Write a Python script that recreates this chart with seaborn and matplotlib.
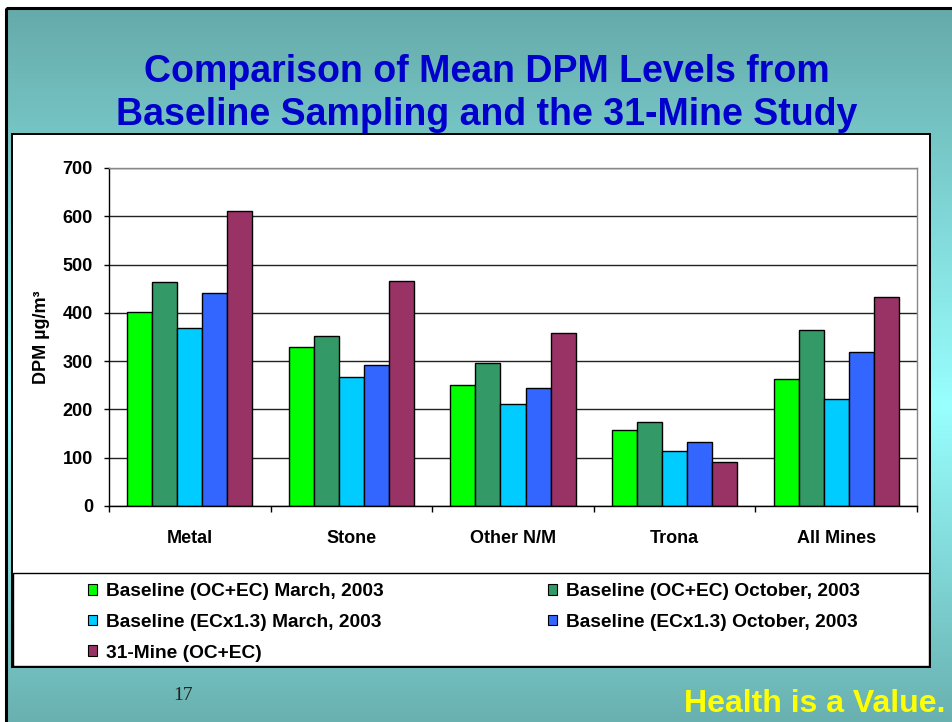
import numpy as np
import pandas as pd
import matplotlib
matplotlib.use("Agg")
import matplotlib.pyplot as plt
from matplotlib.patches import Rectangle, Patch
import seaborn as sns

# ---------------- data ----------------
categories = ["Metal", "Stone", "Other N/M", "Trona", "All Mines"]
series = [
    "Baseline (OC+EC) March, 2003",
    "Baseline (OC+EC) October, 2003",
    "Baseline (ECx1.3) March, 2003",
    "Baseline (ECx1.3) October, 2003",
    "31-Mine (OC+EC)",
]
oc_ec_march = [402, 329, 251, 158, 262]
oc_ec_october = [463, 352, 297, 175, 365]
ec13_march = [368, 267, 211, 114, 222]
ec13_october = [442, 293, 244, 132, 318]
mine31 = [610, 466, 358, 92, 432]
colors = ["#00ff00", "#339966", "#00ccff", "#3366ff", "#993366"]
yticks = [0, 100, 200, 300, 400, 500, 600, 700]

values = [oc_ec_march, oc_ec_october, ec13_march, ec13_october, mine31]
rows = []
for s, vals in zip(series, values):
    for c, v in zip(categories, vals):
        rows.append({"category": c, "series": s, "value": v})
df = pd.DataFrame(rows)

# ---------------- figure ----------------
plt.rcParams["font.family"] = ["Liberation Sans", "DejaVu Sans"]
W, H = 952, 722
fig = plt.figure(figsize=(W / 100, H / 100), dpi=100)
fig.patch.set_facecolor("white")

# background (pixel coordinates)
bg = fig.add_axes([0, 0, 1, 1], zorder=0)
bg.set_xlim(0, W)
bg.set_ylim(H, 0)
bg.axis("off")
top_c = np.array([0x66, 0xaa, 0xaa]) / 255
mid_c = np.array([0x99, 0xff, 0xff]) / 255
bot_c = np.array([0x68, 0xae, 0xae]) / 255
ys = np.linspace(8, H, 400)
grad = np.zeros((len(ys), 1, 3))
for i, y in enumerate(ys):
    if y < 400:
        t = (y - 8) / (400 - 8)
        grad[i, 0] = top_c * (1 - t) + mid_c * t
    else:
        t = (y - 400) / (H - 400)
        grad[i, 0] = mid_c * (1 - t) + bot_c * t
bg.imshow(grad, extent=[6, W + 10, H + 10, 8], aspect="auto", interpolation="bilinear")
bg.add_patch(Rectangle((6, 8), W + 20, H + 20, fill=False, edgecolor="black", lw=2.2))
# white chart panel
bg.add_patch(Rectangle((12, 134), 918, 533, facecolor="white", edgecolor="black", lw=1.4))
# legend box
bg.add_patch(Rectangle((13, 573), 916, 93, facecolor="white", edgecolor="black", lw=1.0))

# title
title_color = "#0000cc"
fig.text(487 / W, 1 - 72 / H, "Comparison of Mean DPM Levels from", ha="center", va="center",
         fontsize=27, fontweight="bold", color=title_color)
fig.text(487 / W, 1 - 115 / H, "Baseline Sampling and the 31-Mine Study", ha="center", va="center",
         fontsize=27, fontweight="bold", color=title_color)

# footer
fig.text(183 / W, 1 - 695 / H, "17", ha="center", va="center", fontsize=14,
         family=["Liberation Serif", "DejaVu Serif"], color="#222222")
fig.text(946 / W, 1 - 704 / H, "Health is a Value.", ha="right", va="center", fontsize=23,
         fontweight="bold", color="#ffff00")

# ---------------- main plot ----------------
ax = fig.add_axes([109 / W, 1 - 506 / H, 808 / W, 338 / H], zorder=2)
ax.set_facecolor("white")
sns.barplot(data=df, x="category", y="value", hue="series", order=categories,
            hue_order=series, palette=colors, saturation=1, width=0.775,
            edgecolor="black", linewidth=1.0, legend=False, ax=ax)
ax.set_xlim(-0.5, len(categories) - 0.5)
ax.set_ylim(0, 700)
ax.set_yticks(yticks)
ax.set_axisbelow(True)
ax.yaxis.grid(True, color="#222222", lw=1.0)
ax.xaxis.grid(False)
for side in ["left", "bottom"]:
    ax.spines[side].set_color("black")
    ax.spines[side].set_linewidth(1.0)
for side in ["top", "right"]:
    ax.spines[side].set_color("#888888")
    ax.spines[side].set_linewidth(1.0)

ax.set_xlabel("")
ax.set_ylabel("DPM µg/m³", fontsize=13, fontweight="bold")
ax.yaxis.set_label_coords(-0.073, 0.5)
ax.tick_params(axis="y", which="major", length=3.6, width=1, direction="out", pad=8,
               labelsize=13)
ax.tick_params(axis="x", which="major", length=0, pad=17, labelsize=13)
ax.set_xticks(np.arange(-0.5, len(categories), 1), minor=True)
ax.tick_params(axis="x", which="minor", length=4.3, width=1, direction="out")
for lbl in ax.get_xticklabels() + ax.get_yticklabels():
    lbl.set_fontweight("bold")

# ---------------- legend ----------------
handles = [Patch(facecolor=c, edgecolor="black", lw=0.8) for c in colors]
leg_kw = dict(loc="upper left", frameon=False, borderpad=0, borderaxespad=0,
              handlelength=0.48, handleheight=0.48, handletextpad=0.45, labelspacing=0.72,
              prop={"weight": "bold", "size": 13.8})
l1 = fig.legend([handles[0], handles[2], handles[4]], [series[0], series[2], series[4]],
                bbox_to_anchor=(88 / W, 1 - 583 / H), **leg_kw)
l2 = fig.legend([handles[1], handles[3]], [series[1], series[3]],
                bbox_to_anchor=(548 / W, 1 - 583 / H), **leg_kw)
for l in (l1, l2):
    l.set_zorder(5)

fig.savefig("out.png", dpi=100)
